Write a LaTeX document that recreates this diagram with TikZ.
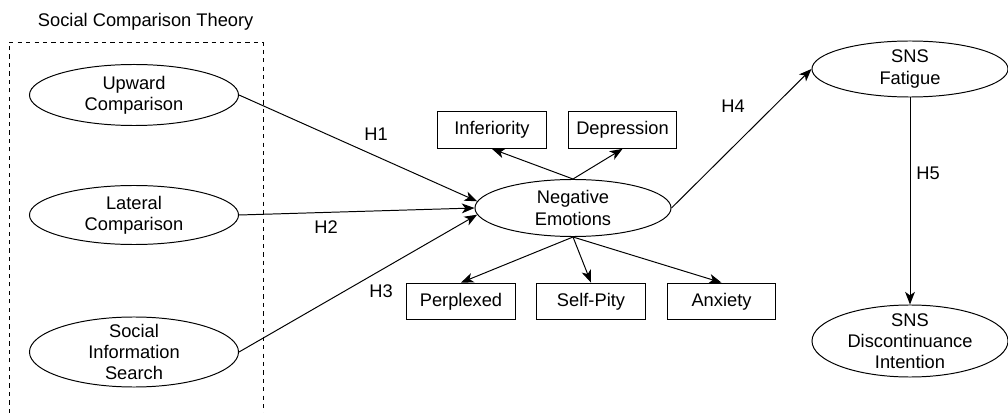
\documentclass[tikz,border=0pt]{standalone}
\usepackage{fontspec}
\setmainfont{Liberation Sans}
\usetikzlibrary{arrows.meta,shapes.geometric}

\begin{document}
\begin{tikzpicture}[x=0.025cm,y=-0.025cm,
  every node/.style={font=\fontsize{13}{15}\selectfont},
  construct/.style={ellipse,draw,line width=0.7pt,inner sep=0pt},
  emotion/.style={rectangle,draw,line width=0.7pt,inner sep=0pt,minimum width=2.7cm,minimum height=0.92cm},
  link/.style={line width=0.7pt,-{Stealth[length=9pt,width=7pt,inset=2.5pt]}}]
  \useasboundingbox (0,0) rectangle (1008,413);

  % theory frame
  \draw [dashed,line width=0.7pt] (9,413) -- (9,42) -- (263,42) -- (263,413);
  \node [anchor=west] (theory) at (33,22) {Social Comparison Theory};

  \node [construct,minimum width=5.225cm,minimum height=1.525cm,
    label={[align=center]center:Upward\\Comparison}] (up) at (134,95) {};
  \node [construct,minimum width=5.225cm,minimum height=1.475cm,
    label={[align=center]center:Lateral\\Comparison}] (lat) at (134,215) {};
  \node [construct,minimum width=5.225cm,minimum height=1.75cm,
    label={[align=center]center:Social\\Information\\Search}] (soc) at (134,352) {};

  \node [construct,minimum width=4.9cm,minimum height=1.425cm,
    label={[align=center]center:Negative\\Emotions}] (neg) at (573,208) {};
  \node [construct,minimum width=4.9cm,minimum height=1.4cm,
    label={[align=center]center:SNS\\Fatigue}] (fat) at (910,69) {};
  \node [construct,minimum width=4.9cm,minimum height=1.8cm,
    label={[align=center]center:SNS\\Discontinuance\\Intention}] (dis) at (910,341) {};

  % emotions
  \node [emotion] (inf) at (492,130) {Inferiority};
  \node [emotion] (dep) at (622.5,130) {Depression};
  \node [emotion] (per) at (461,301.5) {Perplexed};
  \node [emotion] (pity) at (591,301.5) {Self-Pity};
  \node [emotion] (anx) at (721.5,301.5) {Anxiety};

  % hypotheses
  \draw [link] (up.east) -- (neg.176);
  \draw [link] (lat.east) -- (neg.west);
  \draw [link] (soc.east) -- (neg.184);
  \draw [link] (neg.east) -- (fat.west);
  \draw [link] (fat.south) -- (dis.north);

  \draw [link] (neg.north) -- (inf.south);
  \draw [link] (neg.north) -- (dep.south);
  \draw [link] (neg.south) -- (per.north);
  \draw [link] (neg.south) -- (pity.north);
  \draw [link] (neg.south) -- (anx.north);

  \node (h1) at (376,134) {H1};
  \node (h2) at (326,227) {H2};
  \node (h3) at (381,291) {H3};
  \node (h4) at (733,106) {H4};
  \node (h5) at (928,173) {H5};
\end{tikzpicture}
\end{document}
